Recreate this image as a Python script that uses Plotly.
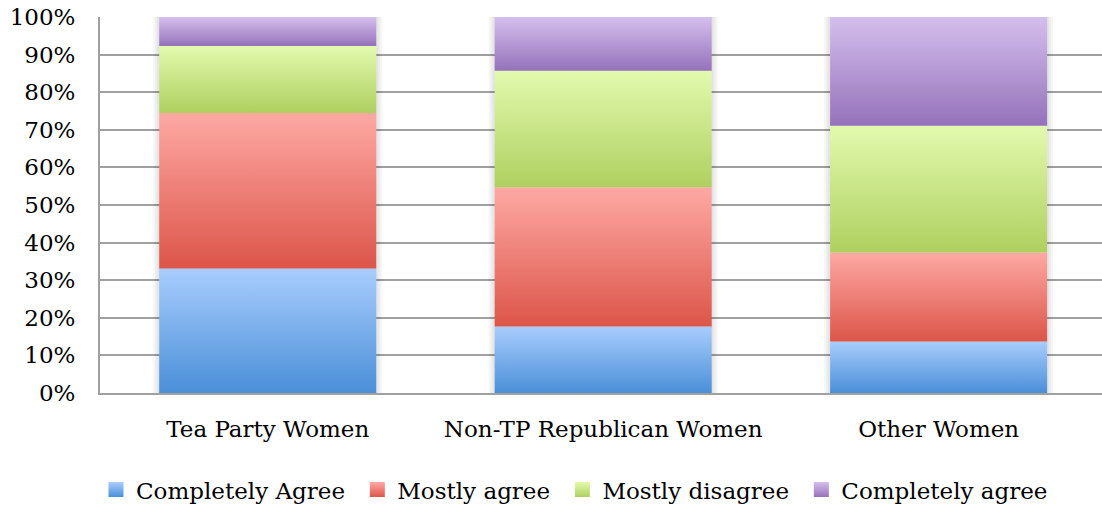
import plotly.graph_objects as go

# Survey responses, percent of each group
categories = ["Tea Party Women", "Non-TP Republican Women", "Other Women"]
series_names = ["Completely Agree", "Mostly agree", "Mostly disagree", "Completely agree"]
completely_agree_a = [33.1, 17.7, 13.7]
mostly_agree = [41.4, 37.0, 23.7]
mostly_disagree = [17.8, 31.0, 33.7]
completely_agree_b = [7.7, 14.3, 28.9]
y_tick_values = [0, 10, 20, 30, 40, 50, 60, 70, 80, 90, 100]

series_values = [completely_agree_a, mostly_agree, mostly_disagree, completely_agree_b]

# (bottom colour, top colour) for each series' vertical gradient
palette = [
    ("#4a8fd8", "#a9cdfd"),
    ("#dc5549", "#fea9a4"),
    ("#afd060", "#e2faae"),
    ("#9572ba", "#d4bfed"),
]

FONT = "DejaVu Serif"
FONT_SIZE = 23
GRID = "#a0a0a0"
BAR_WIDTH = 0.647
X_RANGE = [-0.5, 2.487]
PLOT_W, PLOT_H = 1002, 376
PX_X = (X_RANGE[1] - X_RANGE[0]) / PLOT_W   # one pixel in x data units
PX_Y = 100 / PLOT_H                          # one pixel in y data units

fig = go.Figure()

# Soft drop shadow behind each stacked column
totals = [sum(v[i] for v in series_values) for i in range(len(categories))]
for spread in (6, 4, 2):
    for i, total in enumerate(totals):
        x0 = i - BAR_WIDTH / 2 - spread * PX_X
        x1 = i + BAR_WIDTH / 2 + spread * PX_X
        y1 = total + spread * 0.5 * PX_Y
        fig.add_trace(go.Scatter(
            x=[x0, x1, x1, x0, x0],
            y=[0, 0, y1, y1, 0],
            mode="lines",
            line=dict(width=0),
            fill="toself",
            fillcolor="rgba(0,0,0,0.035)",
            showlegend=False,
            hoverinfo="skip",
        ))

# Stacked segments: one filled polygon per segment so each carries its own gradient
bases = [0.0] * len(categories)
for s, (name, values) in enumerate(zip(series_names, series_values)):
    bottom_col, top_col = palette[s]
    for i, v in enumerate(values):
        x0, x1 = i - BAR_WIDTH / 2, i + BAR_WIDTH / 2
        y0, y1 = bases[i], bases[i] + v
        fig.add_trace(go.Scatter(
            x=[x0, x1, x1, x0, x0],
            y=[y0, y0, y1, y1, y0],
            mode="lines",
            line=dict(width=0),
            fill="toself",
            fillgradient=dict(type="vertical",
                              colorscale=[[0, bottom_col], [1, top_col]]),
            showlegend=False,
            legendgroup=f"s{s}",
            hoverinfo="skip",
        ))
        bases[i] = y1

# Legend swatches
for s, name in enumerate(series_names):
    bottom_col, top_col = palette[s]
    fig.add_trace(go.Scatter(
        x=[None], y=[None],
        mode="markers",
        marker=dict(symbol="square", size=15, color=top_col,
                    gradient=dict(type="vertical", color=bottom_col),
                    line=dict(width=0)),
        name=name + ("\u00a0" if s < len(series_names) - 1 else ""),
        legendgroup=f"s{s}",
    ))

fig.update_layout(
    width=1102,
    height=508,
    margin=dict(l=100, r=0, t=17, b=115, autoexpand=False),
    paper_bgcolor="white",
    plot_bgcolor="white",
    font=dict(family=FONT, size=FONT_SIZE, color="#000000"),
    showlegend=True,
    legend=dict(
        orientation="h",
        x=-0.004, xanchor="left",
        y=-0.257, yanchor="middle",
        font=dict(family=FONT, size=FONT_SIZE, color="#000000"),
        traceorder="normal",
        bgcolor="rgba(0,0,0,0)",
    ),
    xaxis=dict(
        range=X_RANGE,
        tickmode="array",
        tickvals=[0, 1, 2],
        ticktext=categories,
        showgrid=False,
        zeroline=False,
        showline=True,
        linecolor=GRID,
        linewidth=2,
        ticks="",
        ticklabelstandoff=14,
        fixedrange=True,
    ),
    yaxis=dict(
        range=[0, 100],
        tickmode="array",
        tickvals=y_tick_values,
        ticktext=[f"{v}%" for v in y_tick_values],
        showgrid=True,
        gridcolor=GRID,
        gridwidth=2,
        zeroline=False,
        showline=True,
        linecolor=GRID,
        linewidth=2,
        ticks="",
        ticklabelstandoff=18,
        fixedrange=True,
    ),
)

fig.write_html("out.html")
